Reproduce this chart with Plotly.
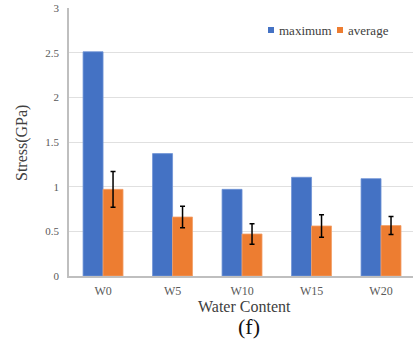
import plotly.graph_objects as go

categories = ["W0", "W5", "W10", "W15", "W20"]
maximum = [2.51, 1.37, 0.97, 1.105, 1.09]
average = [0.97, 0.66, 0.47, 0.56, 0.565]
average_err = [0.2, 0.12, 0.115, 0.125, 0.1]
y_ticks = [0, 0.5, 1, 1.5, 2, 2.5, 3]
y_ticktext = ["0", "0.5", "1", "1.5", "2", "2.5", "3"]

BLUE = "#4472C4"
ORANGE = "#ED7D31"
FONT = "'Liberation Serif', 'Times New Roman', 'DejaVu Serif', serif"

W, H = 413, 354
L, R, T, B = 69, 0, 8, 78
PW, PH = W - L - R, H - T - B


def px(x):
    return (x - L) / PW


def py(y):
    return (H - B - y) / PH


fig = go.Figure()
fig.add_trace(go.Bar(x=categories, y=maximum, name="maximum",
                     marker=dict(color=BLUE, line=dict(width=0.8, color="#6f93d6"))))
fig.add_trace(go.Bar(x=categories, y=average, name="average",
                     marker=dict(color=ORANGE, line=dict(width=0.8, color="#f3a06a")),
                     error_y=dict(type="data", array=average_err, color="black",
                                  thickness=1.5, width=2.5)))

shapes = []
annotations = []
# legend
for x0, col, label in [(268, BLUE, "maximum"), (337, ORANGE, "average")]:
    shapes.append(dict(type="rect", xref="paper", yref="paper",
                       x0=px(x0), x1=px(x0 + 6), y0=py(33), y1=py(27),
                       fillcolor=col, line=dict(width=0)))
    annotations.append(dict(text=label, xref="paper", yref="paper",
                            x=px(x0 + 9), y=py(30), xanchor="left", yanchor="middle",
                            showarrow=False, font=dict(family=FONT, size=13, color="#404040")))

annotations.append(dict(text="Stress(GPa)", xref="paper", yref="paper",
                        x=px(22), y=py(143), textangle=-90, xanchor="center", yanchor="middle",
                        showarrow=False, font=dict(family=FONT, size=16, color="#404040")))
annotations.append(dict(text="Water Content", xref="paper", yref="paper",
                        x=px(244), y=py(306), xanchor="center", yanchor="middle",
                        showarrow=False, font=dict(family=FONT, size=16, color="#404040")))
annotations.append(dict(text="(f)", xref="paper", yref="paper",
                        x=px(249), y=py(326), xanchor="center", yanchor="middle",
                        showarrow=False, font=dict(family=FONT, size=22, color="#111111")))

fig.update_layout(
    width=W, height=H,
    margin=dict(l=L, r=R, t=T, b=B, autoexpand=False),
    paper_bgcolor="white", plot_bgcolor="white",
    barmode="group", bargap=0.425, bargroupgap=0,
    showlegend=False,
    shapes=shapes, annotations=annotations,
    font=dict(family=FONT, color="#595959"),
    xaxis=dict(type="category", range=[-0.49, 4.46], showgrid=False,
               showline=True, linecolor="#bfbfbf", linewidth=1.5,
               ticks="", ticklabelstandoff=3, tickfont=dict(family=FONT, size=12, color="#595959")),
    yaxis=dict(range=[0, 3], tickvals=y_ticks, ticktext=y_ticktext,
               showgrid=True, gridcolor="#e0e0e0", gridwidth=1,
               showline=True, linecolor="#bfbfbf", linewidth=1.5,
               ticks="", zeroline=False, ticklabelstandoff=6,
               tickfont=dict(family=FONT, size=11, color="#595959")),
)

fig.write_html("out.html")
